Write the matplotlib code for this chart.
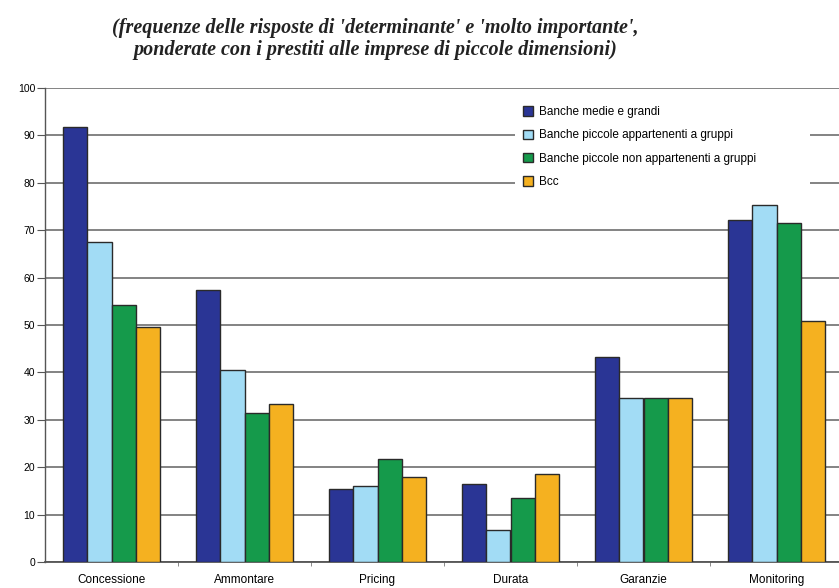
import numpy as np
import matplotlib
matplotlib.use("Agg")
import matplotlib.pyplot as plt


# ───────────────────────────────
# Data
# ───────────────────────────────
categories = ["Concessione", "Ammontare", "Pricing", "Durata", "Garanzie", "Monitoring"]
series_names = [
    "Banche medie e grandi",
    "Banche piccole appartenenti a gruppi",
    "Banche piccole non appartenenti a gruppi",
    "Bcc",
]
medie_grandi = [91.8, 57.4, 15.3, 16.4, 43.3, 72.2]
piccole_gruppi = [67.6, 40.6, 16.1, 6.8, 34.7, 75.3]
piccole_non_gruppi = [54.2, 31.5, 21.7, 13.6, 34.7, 71.6]
bcc = [49.6, 33.3, 17.9, 18.6, 34.7, 50.9]
y_ticks = list(range(0, 101, 10))

title_lines = (
    "(frequenze delle risposte di 'determinante' e 'molto importante',\n"
    "ponderate con i prestiti alle imprese di piccole dimensioni)"
)

colors = ["#2a3595", "#a2dcf5", "#159a4b", "#f5b120"]


def main():
    plt.rcParams["font.family"] = ["Liberation Sans", "DejaVu Sans"]

    W, H = 839, 588
    fig = plt.figure(figsize=(W / 100, H / 100), dpi=100)
    ax = fig.add_axes([45 / W, 1 - 562 / H, 798 / W, 474 / H])

    values = [medie_grandi, piccole_gruppi, piccole_non_gruppi, bcc]
    x = np.arange(len(categories))
    width = 0.182
    offsets = (np.arange(len(values)) - 1.5) * width

    for vals, off, col, name in zip(values, offsets, colors, series_names):
        ax.bar(x + off, vals, width, color=col, edgecolor="#2a2a2a",
               linewidth=1.0, label=name, zorder=3)

    ax.set_xlim(-0.5, len(categories) - 0.5)
    ax.set_ylim(0, 100)
    ax.set_yticks(y_ticks)
    ax.yaxis.grid(True, color="#7a7a7a", linewidth=1.3, zorder=0)
    ax.set_axisbelow(True)

    ax.set_xticks(x)
    ax.set_xticklabels(categories, fontsize=8.5)
    ax.set_xticks(np.arange(0.5, len(categories) - 0.5, 1.0), minor=True)
    ax.tick_params(axis="x", which="major", length=0, pad=8.5)
    ax.tick_params(axis="x", which="minor", length=3, color="#777777")
    ax.tick_params(axis="y", labelsize=7.5, length=5.5, color="#555555", pad=1.5)

    for side in ["top", "right"]:
        ax.spines[side].set_visible(False)
    ax.spines["left"].set_color("#555555")
    ax.spines["bottom"].set_color("#555555")
    ax.spines["left"].set_linewidth(1.0)
    ax.spines["bottom"].set_linewidth(1.3)

    leg = ax.legend(loc="upper left",
                    bbox_to_anchor=(515 / W, 1 - 195 / H, 295 / W, 97 / H),
                    bbox_transform=fig.transFigure, mode="expand",
                    borderaxespad=0, fontsize=8.5, frameon=True,
                    fancybox=False, edgecolor="white", framealpha=1,
                    handlelength=0.85, handleheight=0.85, handletextpad=0.5,
                    labelspacing=0.95, borderpad=0.7)
    leg.get_frame().set_linewidth(0)

    fig.text(375 / W, 1 - 39 / H, title_lines, ha="center", va="center",
             family="Liberation Serif", style="italic", weight="bold",
             fontsize=14.5, linespacing=1.1, color="#222222")

    fig.savefig("out.png", dpi=100)
    plt.close(fig)


if __name__ == "__main__":
    main()
